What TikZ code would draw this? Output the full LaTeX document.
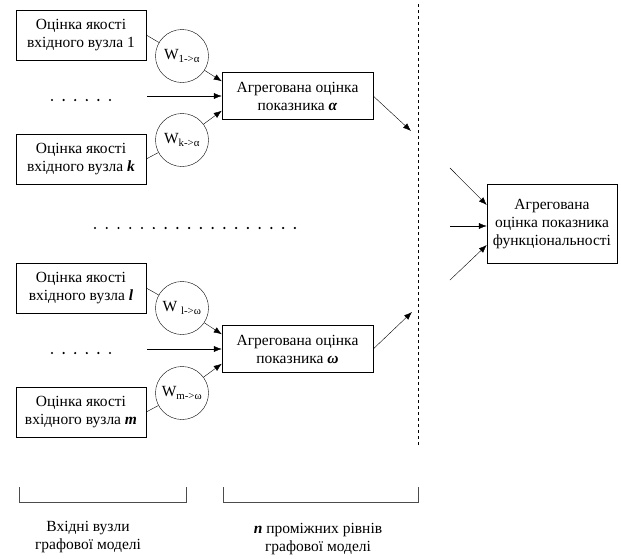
\documentclass[tikz,border=0pt]{standalone}
\usepackage{fontspec}
\setmainfont{Liberation Serif}
\usetikzlibrary{arrows.meta}

\tikzset{
  inbox/.style={draw, minimum width=130pt, minimum height=50pt, align=center, inner sep=1pt},
  aggbox/.style={draw, minimum width=151pt, minimum height=47pt, align=center, inner sep=1pt},
  wcirc/.style={draw, circle, minimum size=53pt, inner sep=0pt},
  arr/.style={-{Latex[length=8pt,width=6pt]}},
}
\newcommand{\bi}[1]{\textbf{\textit{#1}}}

\begin{document}
\begin{tikzpicture}[x=1pt,y=-1pt,font=\fontsize{15.5}{18}\selectfont]
\useasboundingbox (0,0) rectangle (621,558);
% upper level
\node[inbox] (in1) at (81,35) {Оцінка якості\\вхідного вузла 1};
\node[wcirc] (w1) at (182,56) {W\textsubscript{1->α}};
\node[aggbox] (aggA) at (297.5,96) {Агрегована оцінка\\показника \bi{α}};
\node[wcirc] (wk) at (182,140) {W\textsubscript{k->α}};
\node[inbox] (ink) at (81,159) {Оцінка якості\\вхідного вузла \bi{k}};
\foreach \i in {0,...,5}
  \fill (52+11.6*\i,100) circle (1.2pt);
\coordinate (dA) at (147,96);
\draw (in1.east) -- (w1);
\draw (ink.east) -- (wk);
\draw[arr] (w1) -- (aggA.169);
\draw[arr] (dA) -- (aggA.west);
\draw[arr] (wk) -- (aggA.191);
% middle dots
\foreach \i in {0,...,17}
  \fill (95+11.76*\i,228) circle (1.2pt);
% lower level
\node[inbox] (inl) at (81,288) {Оцінка якості\\вхідного вузла \bi{l}};
\node[wcirc] (wl) at (182,308) {W \textsubscript{l->ω}};
\node[aggbox] (aggW) at (297.5,349) {Агрегована оцінка\\показника \bi{ω}};
\node[wcirc] (wm) at (182,393) {W\textsubscript{m->ω}};
\node[inbox] (inm) at (81,412) {Оцінка якості\\вхідного вузла \bi{m}};
\foreach \i in {0,...,5}
  \fill (52+11.6*\i,353) circle (1.2pt);
\coordinate (dW) at (147,349);
\draw (inl.east) -- (wl);
\draw (inm.east) -- (wm);
\draw[arr] (wl) -- (aggW.169);
\draw[arr] (dW) -- (aggW.west);
\draw[arr] (wm) -- (aggW.191);
% dashed border
\draw[dashed] (418,4) -- (418,446);
\coordinate (oA) at (411,131);
\coordinate (oW) at (412,312);
\draw[arr] (aggA.east) -- (oA);
\draw[arr] (aggW.east) -- (oW);
% final
\node[draw, minimum width=130pt, minimum height=79pt, align=center, inner sep=1pt] (fin) at (552,224)
  {Агрегована\\оцінка показника\\функціональності};
\coordinate (i1) at (450,168);
\coordinate (i2) at (450,226);
\coordinate (i3) at (450,280);
\draw[arr] (i1) -- ([yshift=19pt]fin.west);
\draw[arr] (i2) -- (i2 -| fin.west);
\draw[arr] (i3) -- ([yshift=-21pt]fin.west);
% brackets
\draw[black!70] (19,487) -- (19,502) -- (186,502) -- (186,487);
\draw[black!70] (223,487) -- (223,502) -- (418,502) -- (418,487);
\node[align=center] (lb1) at (88,537) {Вхідні вузли\\графової моделі};
\node[align=center] (lb2) at (318,539) {\bi{n} проміжних рівнів\\графової моделі};
\end{tikzpicture}
\end{document}
